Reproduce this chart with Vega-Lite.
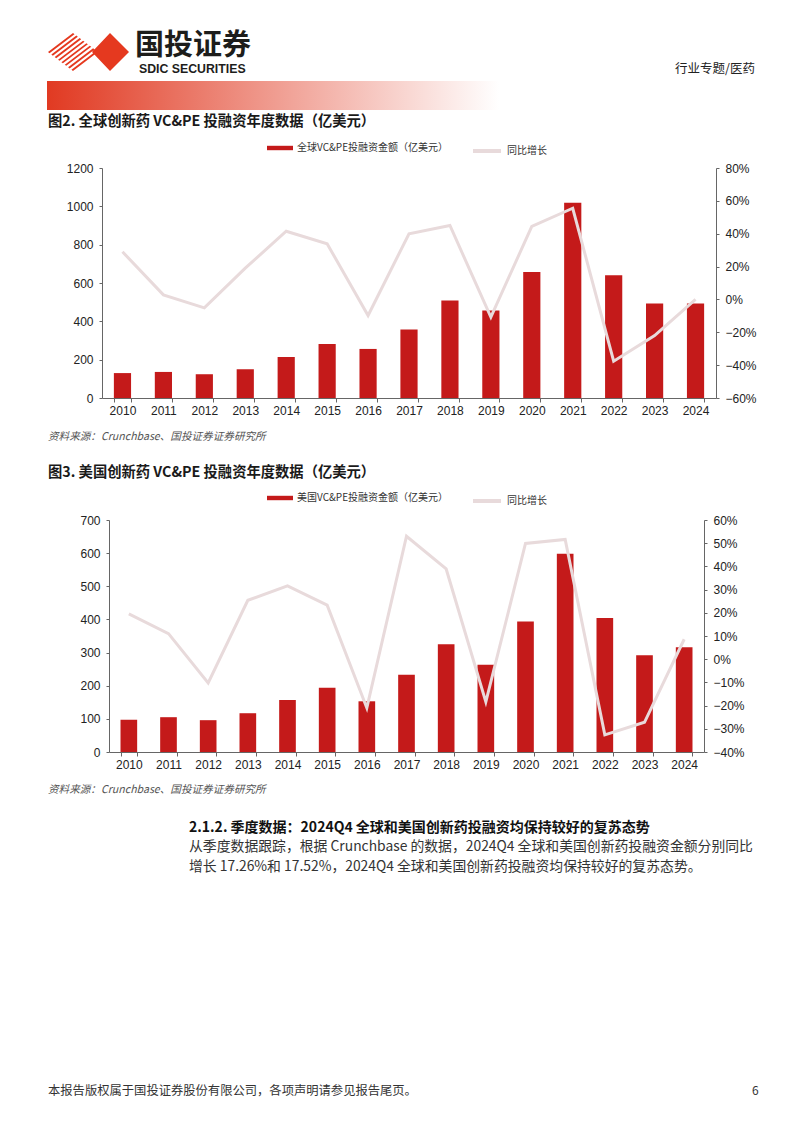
{
  "$schema": "https://vega.github.io/schema/vega-lite/v6.json",
  "background": "white",
  "padding": 0,
  "bounds": "flush",
  "spacing": 0,
  "config": {
    "view": {"stroke": null},
    "font": "Noto Sans CJK SC",
    "axis": {"grid": false, "labelFont": "Liberation Sans, Arial", "labelFontSize": 12, "labelColor": "#222", "domainColor": "#666", "tickColor": "#666", "title": null}
  },
  "datasets": {
    "global": [
      {"year": "2010", "amount": 130, "growth": 0.29},
      {"year": "2011", "amount": 136, "growth": 0.028},
      {"year": "2012", "amount": 124, "growth": -0.051},
      {"year": "2013", "amount": 150, "growth": 0.19},
      {"year": "2014", "amount": 214, "growth": 0.415},
      {"year": "2015", "amount": 282, "growth": 0.339},
      {"year": "2016", "amount": 256, "growth": -0.098},
      {"year": "2017", "amount": 357, "growth": 0.40},
      {"year": "2018", "amount": 509, "growth": 0.45},
      {"year": "2019", "amount": 456, "growth": -0.108},
      {"year": "2020", "amount": 657, "growth": 0.445},
      {"year": "2021", "amount": 1019, "growth": 0.555},
      {"year": "2022", "amount": 641, "growth": -0.376},
      {"year": "2023", "amount": 493, "growth": -0.22},
      {"year": "2024", "amount": 493, "growth": 0.0}
    ],
    "us": [
      {"year": "2010", "amount": 97, "growth": 0.195},
      {"year": "2011", "amount": 105, "growth": 0.11},
      {"year": "2012", "amount": 96, "growth": -0.102},
      {"year": "2013", "amount": 117, "growth": 0.254},
      {"year": "2014", "amount": 157, "growth": 0.316},
      {"year": "2015", "amount": 194, "growth": 0.233},
      {"year": "2016", "amount": 153, "growth": -0.21},
      {"year": "2017", "amount": 233, "growth": 0.53},
      {"year": "2018", "amount": 325, "growth": 0.389},
      {"year": "2019", "amount": 263, "growth": -0.184},
      {"year": "2020", "amount": 394, "growth": 0.499},
      {"year": "2021", "amount": 598, "growth": 0.516},
      {"year": "2022", "amount": 404, "growth": -0.326},
      {"year": "2023", "amount": 292, "growth": -0.272},
      {"year": "2024", "amount": 316, "growth": 0.086}
    ]
  },
  "resolve": {
    "scale": {"color": "independent", "stroke": "independent"},
    "legend": {"color": "independent", "stroke": "independent"}
  },
  "vconcat": [
    {
      "width": 802,
      "height": 167,
      "layer": [
        {"data": {"values": [{}]}, "mark": {"type": "rule", "x": 1, "x2": 1, "y": 0, "y2": 167, "color": "#8a8a8a", "strokeWidth": 1}, "encoding": {}},
        {"data": {"values": [{}]}, "mark": {"type": "rule", "x": 800.5, "x2": 800.5, "y": 0, "y2": 167, "color": "#8a8a8a", "strokeWidth": 1}, "encoding": {}},
        {"data": {"values": [{}]}, "mark": {"type": "rule", "x": 0, "x2": 802, "y": 1, "y2": 1, "color": "#8a8a8a", "strokeWidth": 1}, "encoding": {}},
        {"data": {"values": [{}]}, "mark": {"type": "point", "x": 0, "y": 0, "size": 4, "filled": true, "opacity": 1, "fill": "#E5391F", "strokeWidth": 0,
          "shape": "M47,51L72,32L73.5,33.14L48.5,52.14Z M50.35,53.55L75.35,34.55L76.85,35.69L51.85,54.69Z M53.7,56.09L78.7,37.09L80.2,38.23L55.2,57.23Z M57.05,58.64L82.05,39.64L83.55,40.78L58.55,59.78Z M60.4,61.18L85.4,42.18L86.9,43.32L61.9,62.32Z M63.75,63.73L88.75,44.73L90.25,45.87L65.25,64.87Z M67.1,66.28L92.1,47.28L93.6,48.42L68.6,67.42Z M70.45,68.82L95.45,49.82L96.95,50.96L71.95,69.96Z M91,51L109,32L128,51L109,70Z"}, "encoding": {}},
        {"data": {"values": [{"t": "国投证券"}]}, "mark": {"type": "text", "x": 134, "y": 45, "align": "left", "baseline": "middle", "fontSize": 29, "fontWeight": "bold", "color": "#1d1d1b"}, "encoding": {"text": {"field": "t"}}},
        {"data": {"values": [{"t": "SDIC SECURITIES"}]}, "mark": {"type": "text", "x": 138, "y": 72, "align": "left", "baseline": "alphabetic", "fontSize": 12.3, "fontWeight": "bold", "font": "Liberation Sans, Arial", "color": "#1d1d1b"}, "encoding": {"text": {"field": "t"}}},
        {"data": {"values": [{"t": "行业专题/医药"}]}, "mark": {"type": "text", "x": 754, "y": 68, "align": "right", "baseline": "middle", "fontSize": 12.5, "color": "#222"}, "encoding": {"text": {"field": "t"}}},
        {"data": {"values": [{}]}, "mark": {"type": "rect", "x": 46, "x2": 498, "y": 80, "y2": 109,
          "fill": {"gradient": "linear", "x1": 0, "y1": 0, "x2": 1, "y2": 0, "stops": [{"offset": 0, "color": "#E13A22"}, {"offset": 0.12, "color": "#E4503B"}, {"offset": 1, "color": "#ffffff"}]}}, "encoding": {}},
        {"data": {"values": [{"t": "图2. 全球创新药 VC&PE 投融资年度数据（亿美元）"}]}, "mark": {"type": "text", "x": 47, "y": 120.5, "align": "left", "baseline": "middle", "fontSize": 14.3, "fontWeight": "bold", "color": "#1a1a1a"}, "encoding": {"text": {"field": "t"}}},
        {"data": {"values": [{}]}, "mark": {"type": "rule", "x": 47, "x2": 754, "y": 131, "y2": 131, "color": "#555", "strokeWidth": 1}, "encoding": {}}
      ]
    },
    {
      "width": 802,
      "height": 230,
      "layer": [
        {"data": {"values": [{}]}, "mark": {"type": "rule", "x": 1, "x2": 1, "y": 0, "y2": 230, "color": "#8a8a8a", "strokeWidth": 1}, "encoding": {}},
        {"data": {"values": [{}]}, "mark": {"type": "rule", "x": 800.5, "x2": 800.5, "y": 0, "y2": 230, "color": "#8a8a8a", "strokeWidth": 1}, "encoding": {}},
        {
          "data": {"name": "global"},
          "mark": {"type": "bar"},
          "encoding": {
            "x": {"field": "year", "type": "ordinal", "scale": {"range": [101, 715], "paddingInner": 0.58, "paddingOuter": 0.29},
              "axis": {"orient": "bottom", "labelAngle": 0, "tickBand": "extent", "tickSize": 4, "labelPadding": 3}},
            "y": {"field": "amount", "type": "quantitative", "scale": {"domain": [0, 1200], "nice": false},
              "axis": {"orient": "left", "offset": -101, "format": "d", "values": [0, 200, 400, 600, 800, 1000, 1200], "tickSize": 3, "labelPadding": 6}},
            "color": {"datum": "全球VC&PE投融资金额（亿美元）", "type": "nominal", "scale": {"range": ["#C41A1A"]},
              "legend": {"orient": "none", "legendX": 266, "legendY": -33, "title": null, "padding": 0, "symbolType": "M-1,-0.17L1,-0.17L1,0.17L-1,0.17Z", "symbolSize": 676, "symbolStrokeWidth": 0, "labelFontSize": 10, "labelFont": "Noto Sans CJK SC", "labelColor": "#333", "labelOffset": 4}}
          }
        },
        {
          "data": {"name": "global"},
          "mark": {"type": "line", "strokeWidth": 3},
          "encoding": {
            "x": {"field": "year", "type": "ordinal"},
            "y": {"field": "growth", "type": "quantitative", "scale": {"domain": [-0.6, 0.8], "nice": false},
              "axis": {"orient": "right", "offset": -87, "format": ".0%", "values": [-0.6, -0.4, -0.2, 0, 0.2, 0.4, 0.6, 0.8], "tickSize": 3, "labelPadding": 6}},
            "stroke": {"datum": "同比增长", "type": "nominal", "scale": {"range": ["#E8DADB"]},
              "legend": {"orient": "none", "legendX": 470, "legendY": -33, "title": null, "padding": 0, "symbolType": "stroke", "symbolSize": 784, "symbolStrokeWidth": 4, "labelFontSize": 10, "labelFont": "Noto Sans CJK SC", "labelColor": "#333", "labelOffset": 4}}
          }
        }
      ],
      "resolve": {"scale": {"y": "independent"}}
    },
    {
      "width": 802,
      "height": 122,
      "layer": [
        {"data": {"values": [{}]}, "mark": {"type": "rule", "x": 1, "x2": 1, "y": 0, "y2": 122, "color": "#8a8a8a", "strokeWidth": 1}, "encoding": {}},
        {"data": {"values": [{}]}, "mark": {"type": "rule", "x": 800.5, "x2": 800.5, "y": 0, "y2": 122, "color": "#8a8a8a", "strokeWidth": 1}, "encoding": {}},
        {"data": {"values": [{}]}, "mark": {"type": "rule", "x": 47, "x2": 756, "y": 31, "y2": 31, "color": "#999", "strokeWidth": 1}, "encoding": {}},
        {"data": {"values": [{"t": "资料来源：Crunchbase、国投证券证券研究所"}]}, "mark": {"type": "text", "x": 47, "y": 38.5, "align": "left", "baseline": "middle", "fontSize": 10.6, "fontStyle": "italic", "color": "#555"}, "encoding": {"text": {"field": "t"}}},
        {"data": {"values": [{"t": "图3. 美国创新药 VC&PE 投融资年度数据（亿美元）"}]}, "mark": {"type": "text", "x": 47, "y": 75, "align": "left", "baseline": "middle", "fontSize": 14.3, "fontWeight": "bold", "color": "#1a1a1a"}, "encoding": {"text": {"field": "t"}}},
        {"data": {"values": [{}]}, "mark": {"type": "rule", "x": 47, "x2": 754, "y": 85.5, "y2": 85.5, "color": "#555", "strokeWidth": 1}, "encoding": {}}
      ]
    },
    {
      "width": 802,
      "height": 232,
      "layer": [
        {"data": {"values": [{}]}, "mark": {"type": "rule", "x": 1, "x2": 1, "y": 0, "y2": 232, "color": "#8a8a8a", "strokeWidth": 1}, "encoding": {}},
        {"data": {"values": [{}]}, "mark": {"type": "rule", "x": 800.5, "x2": 800.5, "y": 0, "y2": 232, "color": "#8a8a8a", "strokeWidth": 1}, "encoding": {}},
        {
          "data": {"name": "us"},
          "mark": {"type": "bar"},
          "encoding": {
            "x": {"field": "year", "type": "ordinal", "scale": {"range": [108, 703], "paddingInner": 0.58, "paddingOuter": 0.29},
              "axis": {"orient": "bottom", "labelAngle": 0, "tickBand": "extent", "tickSize": 4, "labelPadding": 3}},
            "y": {"field": "amount", "type": "quantitative", "scale": {"domain": [0, 700], "nice": false},
              "axis": {"orient": "left", "offset": -108, "format": "d", "values": [0, 100, 200, 300, 400, 500, 600, 700], "tickSize": 3, "labelPadding": 6}},
            "color": {"datum": "美国VC&PE投融资金额（亿美元）", "type": "nominal", "scale": {"range": ["#C41A1A"]},
              "legend": {"orient": "none", "legendX": 266, "legendY": -35, "title": null, "padding": 0, "symbolType": "M-1,-0.17L1,-0.17L1,0.17L-1,0.17Z", "symbolSize": 676, "symbolStrokeWidth": 0, "labelFontSize": 10, "labelFont": "Noto Sans CJK SC", "labelColor": "#333", "labelOffset": 4}}
          }
        },
        {
          "data": {"name": "us"},
          "mark": {"type": "line", "strokeWidth": 3},
          "encoding": {
            "x": {"field": "year", "type": "ordinal"},
            "y": {"field": "growth", "type": "quantitative", "scale": {"domain": [-0.4, 0.6], "nice": false},
              "axis": {"orient": "right", "offset": -99, "format": ".0%", "values": [-0.4, -0.3, -0.2, -0.1, 0, 0.1, 0.2, 0.3, 0.4, 0.5, 0.6], "tickSize": 3, "labelPadding": 6}},
            "stroke": {"datum": "同比增长", "type": "nominal", "scale": {"range": ["#E8DADB"]},
              "legend": {"orient": "none", "legendX": 470, "legendY": -35, "title": null, "padding": 0, "symbolType": "stroke", "symbolSize": 784, "symbolStrokeWidth": 4, "labelFontSize": 10, "labelFont": "Noto Sans CJK SC", "labelColor": "#333", "labelOffset": 4}}
          }
        }
      ],
      "resolve": {"scale": {"y": "independent"}}
    },
    {
      "width": 802,
      "height": 382,
      "layer": [
        {"data": {"values": [{}]}, "mark": {"type": "rule", "x": 1, "x2": 1, "y": 0, "y2": 382, "color": "#8a8a8a", "strokeWidth": 1}, "encoding": {}},
        {"data": {"values": [{}]}, "mark": {"type": "rule", "x": 800.5, "x2": 800.5, "y": 0, "y2": 382, "color": "#8a8a8a", "strokeWidth": 1}, "encoding": {}},
        {"data": {"values": [{}]}, "mark": {"type": "rule", "x": 47, "x2": 756, "y": 31.5, "y2": 31.5, "color": "#999", "strokeWidth": 1}, "encoding": {}},
        {"data": {"values": [{"t": "资料来源：Crunchbase、国投证券证券研究所"}]}, "mark": {"type": "text", "x": 47, "y": 38, "align": "left", "baseline": "middle", "fontSize": 10.6, "fontStyle": "italic", "color": "#555"}, "encoding": {"text": {"field": "t"}}},
        {"data": {"values": [{"t": "2.1.2. 季度数据：2024Q4 全球和美国创新药投融资均保持较好的复苏态势"}]}, "mark": {"type": "text", "x": 188, "y": 75.5, "align": "left", "baseline": "middle", "fontSize": 14, "fontWeight": "bold", "color": "#111"}, "encoding": {"text": {"field": "t"}}},
        {"data": {"values": [{"t": "从季度数据跟踪，根据 Crunchbase 的数据，2024Q4 全球和美国创新药投融资金额分别同比"}]}, "mark": {"type": "text", "x": 188, "y": 95, "align": "left", "baseline": "middle", "fontSize": 13.85, "color": "#333"}, "encoding": {"text": {"field": "t"}}},
        {"data": {"values": [{"t": "增长 17.26%和 17.52%，2024Q4 全球和美国创新药投融资均保持较好的复苏态势。"}]}, "mark": {"type": "text", "x": 188, "y": 114.5, "align": "left", "baseline": "middle", "fontSize": 13.85, "color": "#333"}, "encoding": {"text": {"field": "t"}}},
        {"data": {"values": [{"t": "本报告版权属于国投证券股份有限公司，各项声明请参见报告尾页。"}]}, "mark": {"type": "text", "x": 47, "y": 339, "align": "left", "baseline": "middle", "fontSize": 12.3, "color": "#333"}, "encoding": {"text": {"field": "t"}}},
        {"data": {"values": [{"t": "6"}]}, "mark": {"type": "text", "x": 751, "y": 339, "align": "left", "baseline": "middle", "fontSize": 12, "color": "#333"}, "encoding": {"text": {"field": "t"}}}
      ]
    }
  ]
}
